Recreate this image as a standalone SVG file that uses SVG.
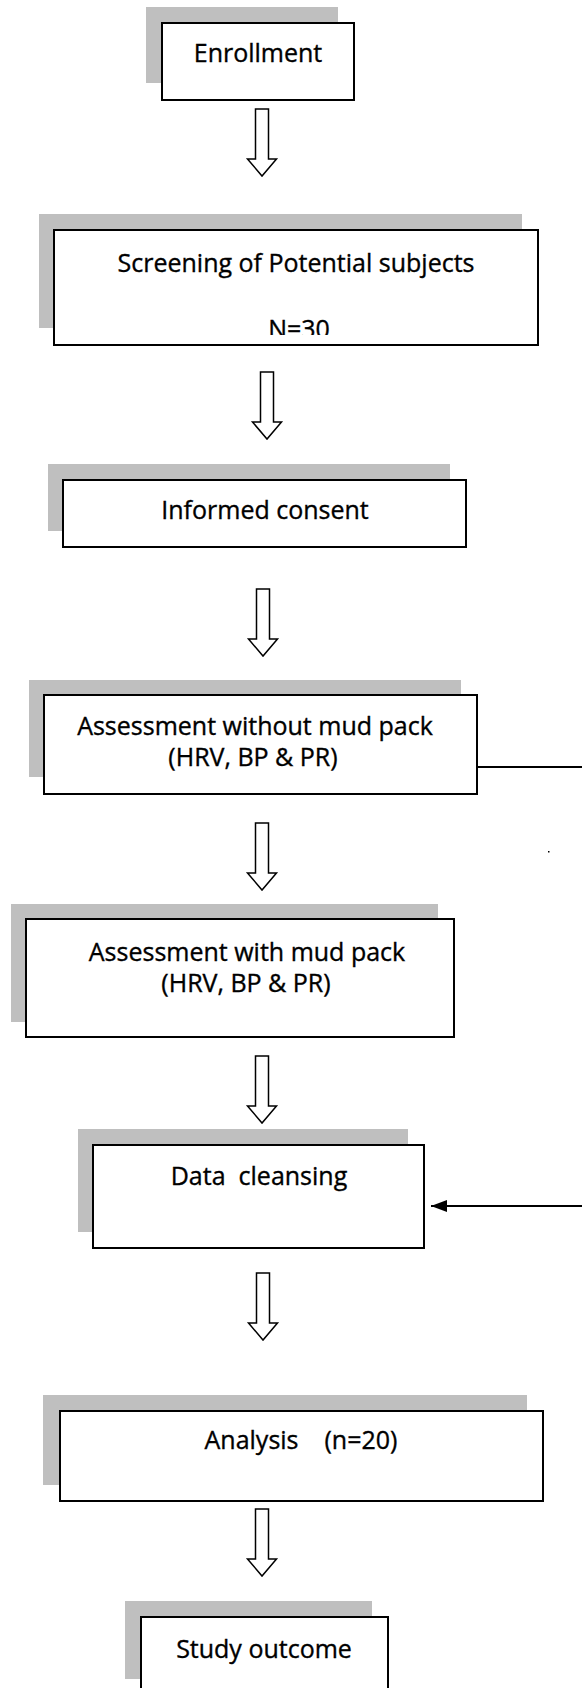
<svg xmlns="http://www.w3.org/2000/svg" width="582" height="1688" viewBox="0 0 582 1688">
<style>
.sh{fill:#bfbfbf}
.bx{fill:#fff;stroke:#000;stroke-width:2}
.t{font-family:"Open Sans","Liberation Sans",sans-serif;font-size:25px;fill:#000;stroke:#000;stroke-width:0.35;text-anchor:middle;white-space:pre}
.ln{stroke:#000;stroke-width:1.8;fill:none}
.ba{fill:#fff;stroke:#000;stroke-width:1.5}
</style>
<defs>
<path id="blk" d="M-6.5,0 H6.5 V50 H14.5 L0,67 L-14.5,50 H-6.5 Z"/>
<marker id="ah2" viewBox="0 0 16 12" refX="16" refY="6" markerWidth="16" markerHeight="12" markerUnits="userSpaceOnUse" orient="auto">
<path d="M0,0 L16,6 L0,12 Z" fill="#000"/>
</marker>
<clipPath id="clipN"><rect x="54" y="230" width="484" height="105"/></clipPath>
</defs>

<g id="enrollment">
<rect class="sh" x="146" y="7" width="192" height="76"/>
<rect class="bx" x="162" y="23" width="192" height="77"/>
<text class="t" x="258" y="62">Enrollment</text>
</g>

<g id="screening">
<rect class="sh" x="39" y="214" width="483" height="114"/>
<rect class="bx" x="54" y="230" width="484" height="115"/>
<text class="t" x="296" y="272">Screening of Potential subjects</text>
<text class="t" x="299" y="338" clip-path="url(#clipN)">N=30</text>
</g>

<g id="consent">
<rect class="sh" x="48" y="464" width="402" height="67"/>
<rect class="bx" x="63" y="480" width="403" height="67"/>
<text class="t" x="265" y="519">Informed consent</text>
</g>

<g id="assess-without">
<rect class="sh" x="29" y="680" width="432" height="97"/>
<rect class="bx" x="44" y="695" width="433" height="99"/>
<text class="t" x="255" y="735">Assessment without mud pack</text>
<text class="t" x="253" y="766">(HRV, BP &amp; PR)</text>
</g>

<g id="assess-with">
<rect class="sh" x="11" y="904" width="427" height="118"/>
<rect class="bx" x="26" y="919" width="428" height="118"/>
<text class="t" x="247" y="961">Assessment with mud pack</text>
<text class="t" x="246" y="992">(HRV, BP &amp; PR)</text>
</g>

<g id="cleansing">
<rect class="sh" x="78" y="1129" width="330" height="103"/>
<rect class="bx" x="93" y="1145" width="331" height="103"/>
<text class="t" x="259" y="1185">Data  cleansing</text>
</g>

<g id="analysis">
<rect class="sh" x="43" y="1395" width="484" height="90"/>
<rect class="bx" x="60" y="1411" width="483" height="90"/>
<text class="t" x="301" y="1449">Analysis    (n=20)</text>
</g>

<g id="outcome">
<rect class="sh" x="125" y="1601" width="247" height="78"/>
<rect class="bx" x="141" y="1617" width="247" height="90"/>
<text class="t" x="264" y="1658">Study outcome</text>
</g>

<g id="connectors">
<use href="#blk" class="ba" transform="translate(262,109)"/>
<use href="#blk" class="ba" transform="translate(267,372)"/>
<use href="#blk" class="ba" transform="translate(263,589)"/>
<use href="#blk" class="ba" transform="translate(262,823)"/>
<use href="#blk" class="ba" transform="translate(262,1056)"/>
<use href="#blk" class="ba" transform="translate(263,1273)"/>
<use href="#blk" class="ba" transform="translate(262,1509)"/>
<line class="ln" x1="477" y1="767" x2="582" y2="767"/>
<line class="ln" x1="582" y1="1206" x2="431" y2="1206" marker-end="url(#ah2)"/>
<rect x="548" y="851" width="1.5" height="1.5" fill="#000"/>
</g>
</svg>
